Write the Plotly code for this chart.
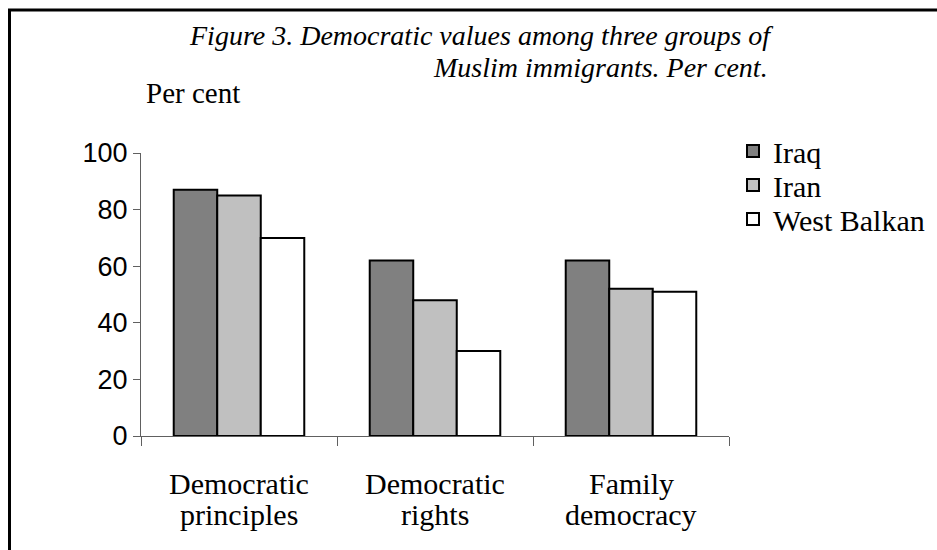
import plotly.graph_objects as go

categories = ["Democratic principles", "Democratic rights", "Family democracy"]
series_names = ["Iraq", "Iran", "West Balkan"]
iraq = [87, 62, 62]
iran = [85, 48, 52]
west_balkan = [70, 30, 51]
y_ticks = [0, 20, 40, 60, 80, 100]

colors = ["#808080", "#C0C0C0", "#FFFFFF"]
values = [iraq, iran, west_balkan]

W, H = 937, 550
L, R, T, B = 141, 729, 153, 436
pw, ph = R - L, B - T

def px_x(p):
    return (p - L) / pw

def px_y(p):
    return (B - p) / ph

serif = "Liberation Serif, Times New Roman, serif"
sans = "Liberation Sans, Arial, sans-serif"

legend_ids = ["legend", "legend2", "legend3"]
legend_rows = [151, 185, 219]

fig = go.Figure()
for name, vals, col, lid in zip(series_names, values, colors, legend_ids):
    fig.add_trace(go.Bar(
        x=categories, y=vals, name=name, legend=lid,
        marker=dict(color=col, line=dict(color="black", width=2)),
    ))

annotations = []
for cat in categories:
    l1, l2 = cat.split(" ", 1)
    annotations.append(dict(x=cat, xref="x", y=px_y(483), yref="paper", text=l1,
                            showarrow=False, xanchor="center", yanchor="middle",
                            font=dict(family=serif, size=30, color="black")))
    annotations.append(dict(x=cat, xref="x", y=px_y(514), yref="paper", text=l2,
                            showarrow=False, xanchor="center", yanchor="middle",
                            font=dict(family=serif, size=30, color="black")))

annotations.append(dict(x=px_x(481), xref="paper", y=px_y(36), yref="paper",
                        text="<i>Figure 3. Democratic values among three groups of</i>",
                        showarrow=False, xanchor="center", yanchor="middle",
                        font=dict(family=serif, size=28, color="black")))
annotations.append(dict(x=px_x(600), xref="paper", y=px_y(67), yref="paper",
                        text="<i>Muslim immigrants. Per cent.</i>",
                        showarrow=False, xanchor="center", yanchor="middle",
                        font=dict(family=serif, size=28, color="black")))
annotations.append(dict(x=px_x(144), xref="paper", y=px_y(93), yref="paper",
                        text="Per cent",
                        showarrow=False, xanchor="left", yanchor="middle",
                        font=dict(family=serif, size=29, color="black")))

shapes = [
    dict(type="line", xref="paper", yref="paper", x0=px_x(9.5), x1=px_x(9.5),
         y0=px_y(9.5), y1=px_y(600), line=dict(color="black", width=3)),
    dict(type="line", xref="paper", yref="paper", x0=px_x(8), x1=px_x(1000),
         y0=px_y(10), y1=px_y(10), line=dict(color="black", width=3)),
]

layout = dict(
    width=W, height=H,
    margin=dict(l=L, r=W - R, t=T, b=H - B, pad=0, autoexpand=False),
    paper_bgcolor="white", plot_bgcolor="white",
    barmode="group", bargap=0.334, bargroupgap=0,
    showlegend=True,
    annotations=annotations,
    shapes=shapes,
    xaxis=dict(showticklabels=False, showline=True, linecolor="#606060", linewidth=1,
               ticks="outside", ticklen=9, tickcolor="#606060", tickson="boundaries",
               showgrid=False, zeroline=False),
    yaxis=dict(range=[0, 100], tickvals=y_ticks, showline=True, linecolor="#606060",
               linewidth=1, ticks="outside", ticklen=7, tickcolor="#606060",
               showgrid=False, zeroline=False,
               tickfont=dict(family=sans, size=27, color="black")),
)
for lid, row in zip(legend_ids, legend_rows):
    layout[lid] = dict(x=px_x(733), xanchor="left", y=px_y(row), yanchor="middle",
                       font=dict(family=serif, size=30, color="black"),
                       itemwidth=30, bgcolor="rgba(0,0,0,0)", borderwidth=0)

fig.update_layout(**layout)
fig.write_html("out.html")
